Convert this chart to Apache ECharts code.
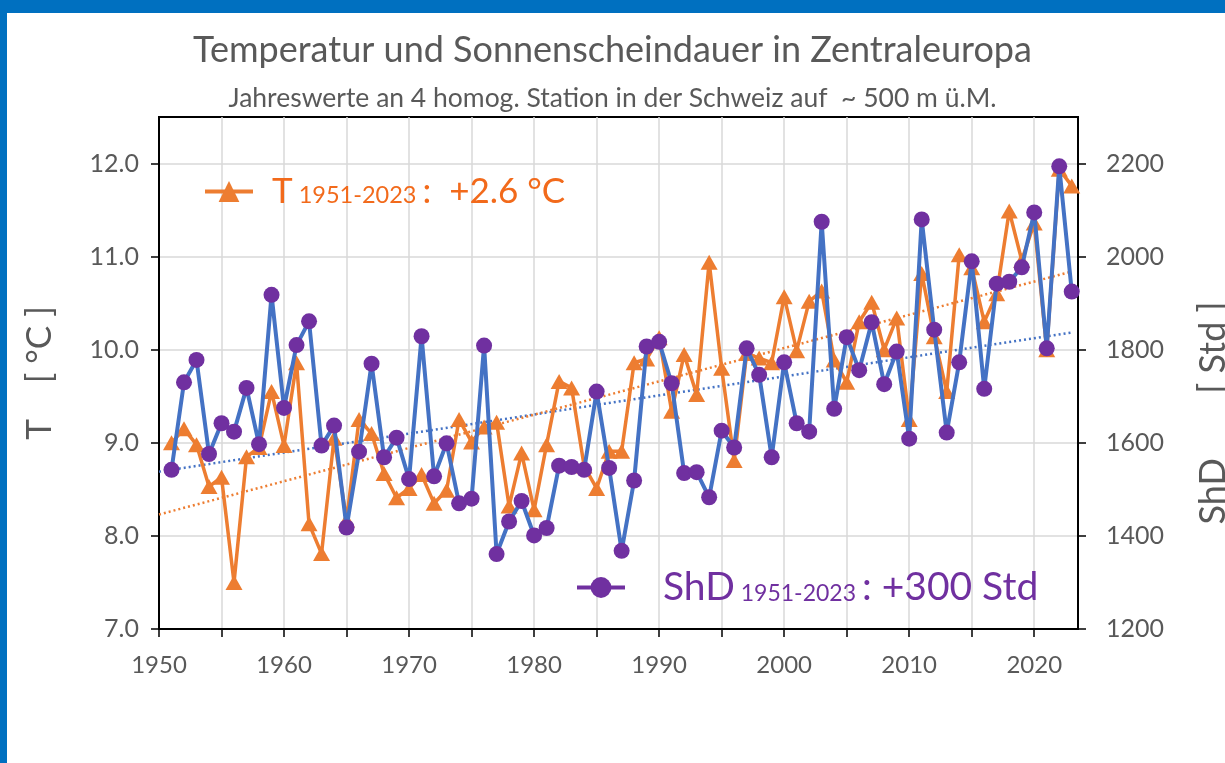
<!DOCTYPE html>
<html>
<head>
<meta charset="utf-8">
<script src="https://cdn.jsdelivr.net/npm/echarts@6/dist/echarts.min.js"></script>
<style>
  html, body { margin: 0; padding: 0; background: #fff; }
  #chart { width: 1225px; height: 763px; }
</style>
</head>
<body>
<div id="chart"></div>
<script>
// Jahre 1951-2023
const years = Array.from({ length: 73 }, (_, i) => 1951 + i)

// Jahresmitteltemperatur [°C]
const tempValues = [
  9.0, 9.15, 8.98, 8.53, 8.63, 7.5, 8.85, 8.95, 9.55, 8.97,
  9.86, 8.13, 7.81, 9.05, 8.17, 9.25, 9.1, 8.67, 8.41, 8.51,
  8.66, 8.35, 8.49, 9.25, 9.01, 9.17, 9.22, 8.32, 8.89, 8.28,
  8.98, 9.66, 9.59, 8.75, 8.51, 8.91, 8.91, 9.86, 9.9, 10.13,
  9.34, 9.95, 9.52, 10.94, 9.8, 8.81, 9.96, 9.91, 9.86, 10.57,
  9.99, 10.52, 10.63, 9.89, 9.65, 10.3, 10.51, 10.0, 10.34, 9.25,
  10.82, 10.14, 9.55, 11.02, 10.88, 10.3, 10.6, 11.49, 10.96, 11.36,
  10.0, 11.94, 11.76
]

// Sonnenscheindauer [Std]
const sunValues = [
  1542, 1730, 1778, 1576, 1642, 1624, 1718, 1597, 1918, 1675,
  1810, 1861, 1594, 1637, 1418, 1581, 1770, 1569, 1611, 1522,
  1829, 1528, 1599, 1470, 1480, 1809, 1361, 1431, 1475, 1401,
  1417, 1551, 1548, 1542, 1710, 1546, 1368, 1519, 1807, 1817,
  1728, 1535, 1537, 1483, 1626, 1590, 1803, 1746, 1569, 1773,
  1642, 1624, 2075, 1673, 1827, 1756, 1859, 1726, 1796, 1609,
  2080, 1843, 1622, 1773, 1990, 1716, 1942, 1946, 1977, 2095,
  1803, 2194, 1925
]

const trendYears = [1950, 2023]
const tempTrend = [8.23, 10.84]
const sunTrend = [1538, 1837]

// Achsenbeschriftung
const xTicks = [1950, 1955, 1960, 1965, 1970, 1975, 1980, 1985, 1990, 1995, 2000, 2005, 2010, 2015, 2020]
const xLabels = [1950, 1960, 1970, 1980, 1990, 2000, 2010, 2020]
const tempTicks = [7, 8, 9, 10, 11, 12]
const sunTicks = [1200, 1400, 1600, 1800, 2000, 2200]

const textGrey = '#595959'
const font = 'Lato'

const chart = echarts.init(document.getElementById('chart'))

const option = {
  animation: false,
  backgroundColor: '#fff',
  textStyle: { fontFamily: font },
  graphic: [
    { type: 'rect', shape: { x: 0, y: 0, width: 1225, height: 13 }, style: { fill: '#0070C0' } },
    { type: 'rect', shape: { x: 0, y: 0, width: 7, height: 763 }, style: { fill: '#0070C0' } }
  ],
  title: [
    {
      text: 'Temperatur und Sonnenscheindauer in Zentraleuropa',
      left: 'center',
      top: 27,
      textStyle: { fontSize: 36, fontWeight: 'normal', color: textGrey, fontFamily: font }
    },
    {
      text: 'Jahreswerte an 4 homog. Station in der Schweiz auf  ~ 500 m ü.M.',
      left: 'center',
      top: 80,
      textStyle: { fontSize: 26.5, fontWeight: 'normal', color: textGrey, fontFamily: font }
    }
  ],
  grid: {
    left: 159,
    right: 147,
    top: 117,
    bottom: 134,
    outerBoundsMode: 'none',
    show: true,
    borderColor: '#000',
    borderWidth: 2
  },
  legend: [
    {
      data: ['T'],
      left: 198,
      top: 169,
      itemWidth: 48,
      itemHeight: 26,
      lineStyle: { color: '#ED7D31', width: 4 },
      formatter: () => '{gap| }{big|T}{sub| 1951-2023 }{big|:  +2.6 °C}',
      textStyle: {
        rich: {
          gap: { width: 14 },
          big: { fontSize: 35, color: '#F26A1B', fontFamily: font },
          sub: { fontSize: 23.5, color: '#F26A1B', fontFamily: font, verticalAlign: 'bottom', padding: [0, 0, 2, 0] }
        }
      }
    },
    {
      data: ['ShD'],
      left: 570,
      top: 563,
      itemWidth: 48,
      itemHeight: 26,
      lineStyle: { color: '#7030A0', width: 4 },
      formatter: () => '{gap| }{big|ShD}{sub| 1951-2023 }{big|: +300 Std}',
      textStyle: {
        rich: {
          gap: { width: 33 },
          big: { fontSize: 39, color: '#7030A0', fontFamily: font },
          sub: { fontSize: 23, color: '#7030A0', fontFamily: font, verticalAlign: 'bottom', padding: [0, 0, 2, 0] }
        }
      }
    }
  ],
  xAxis: {
    type: 'value',
    min: 1950,
    max: 2023.5,
    interval: 5,
    axisLine: { lineStyle: { color: '#000', width: 2 } },
    axisTick: { show: true, length: 8, customValues: xTicks, lineStyle: { color: '#000', width: 1.5 } },
    axisLabel: {
      customValues: xLabels,
      formatter: (v) => String(v),
      fontSize: 24,
      color: textGrey,
      margin: 24
    },
    splitLine: { show: true, lineStyle: { color: '#D9D9D9', width: 1.5 } }
  },
  yAxis: [
    {
      type: 'value',
      position: 'left',
      min: 7,
      max: 12.5,
      interval: 1,
      axisLine: { show: true, lineStyle: { color: '#000', width: 2 } },
      axisTick: { show: true, length: 8, customValues: tempTicks, lineStyle: { color: '#000', width: 1.5 } },
      axisLabel: {
        customValues: tempTicks,
        formatter: (v) => v.toFixed(1),
        fontSize: 25,
        color: textGrey,
        margin: 20
      },
      splitLine: { show: true, lineStyle: { color: '#D9D9D9', width: 1.5 } },
      name: 'T    [ °C ]',
      nameLocation: 'middle',
      nameRotate: 90,
      nameGap: 102,
      nameTextStyle: { fontSize: 35, color: textGrey }
    },
    {
      type: 'value',
      position: 'right',
      min: 1200,
      max: 2300,
      interval: 200,
      axisLine: { show: true, lineStyle: { color: '#000', width: 2 } },
      axisTick: { show: true, length: 8, customValues: sunTicks, lineStyle: { color: '#000', width: 1.5 } },
      axisLabel: {
        customValues: sunTicks,
        formatter: (v) => String(v),
        fontSize: 25,
        color: textGrey,
        margin: 28
      },
      splitLine: { show: false },
      name: 'ShD       [ Std ]',
      nameLocation: 'middle',
      nameRotate: 90,
      nameGap: 117,
      nameTextStyle: { fontSize: 36, color: textGrey, padding: [0, 80, 0, 0] }
    }
  ],
  series: [
    {
      name: 'ShD Trend',
      type: 'line',
      yAxisIndex: 1,
      data: trendYears.map((y, i) => [y, sunTrend[i]]),
      symbol: 'none',
      silent: true,
      lineStyle: { color: '#4472C4', width: 2.5, type: [2, 3] },
      z: 1
    },
    {
      name: 'T Trend',
      type: 'line',
      yAxisIndex: 0,
      data: trendYears.map((y, i) => [y, tempTrend[i]]),
      symbol: 'none',
      silent: true,
      lineStyle: { color: '#ED7D31', width: 2.5, type: [2, 3] },
      z: 1
    },
    {
      name: 'T',
      type: 'line',
      yAxisIndex: 0,
      data: years.map((y, i) => [y, tempValues[i]]),
      symbol: 'triangle',
      symbolSize: [17, 15],
      lineStyle: { color: '#ED7D31', width: 3.5 },
      itemStyle: { color: '#ED7D31' },
      z: 2
    },
    {
      name: 'ShD',
      type: 'line',
      yAxisIndex: 1,
      data: years.map((y, i) => [y, sunValues[i]]),
      symbol: 'circle',
      symbolSize: 16,
      lineStyle: { color: '#4472C4', width: 4 },
      itemStyle: { color: '#7030A0' },
      z: 3
    }
  ]
}

chart.setOption(option)
</script>
</body>
</html>
